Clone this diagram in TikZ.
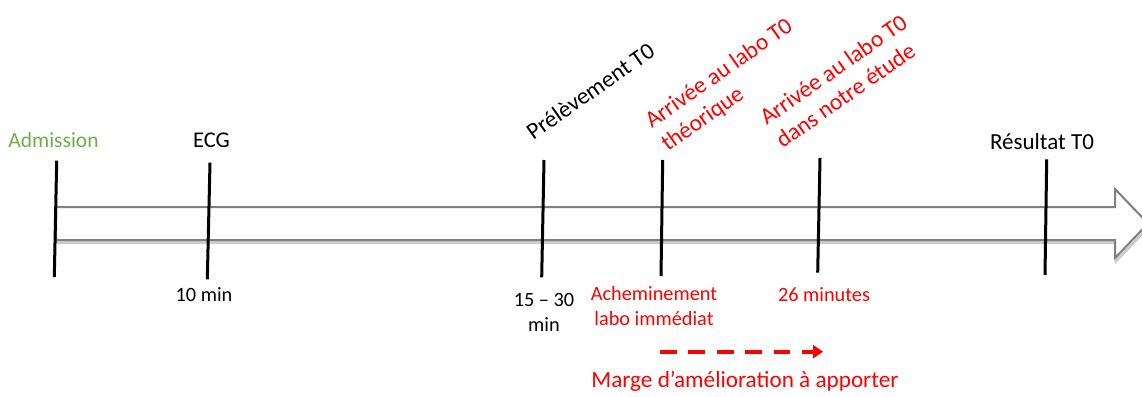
\documentclass[tikz,border=0pt]{standalone}
\usepackage{fontspec}
\setmainfont{Carlito}
\usetikzlibrary{arrows.meta}
\definecolor{admgreen}{HTML}{70AD47}
\definecolor{lblred}{HTML}{FF0000}
\definecolor{arrowgray}{HTML}{808080}
\begin{document}
\begin{tikzpicture}[x=1pt,y=-1pt,
  tickline/.style={line width=3pt, black},
  toplbl/.style={inner sep=0pt, anchor=base, font=\fontsize{21.5}{25}\selectfont},
  botlbl/.style={inner sep=0pt, anchor=base, font=\fontsize{20.3}{24.5}\selectfont},
  rotlbl/.style={inner sep=0pt, anchor=base west, rotate=35, font=\fontsize{23.5}{28}\selectfont},
  bodyline/.style={arrowgray, line width=2pt, line join=miter},
  margearrow/.style={lblred, line width=4pt, dash pattern=on 16.7pt off 11.7pt, -{Triangle[length=10pt,width=13pt]}}
]
\useasboundingbox (0,0) rectangle (1142,396);

% timeline block arrow (shadow then body)
\draw[black!20, line width=3pt, line join=miter, shift={(1.5,2.5)}]
  (56,207) -- (1115,207) -- (1115,189) -- (1148,223.5) -- (1115,258) -- (1115,240) -- (56,240) -- cycle;
\draw[bodyline, fill=white]
  (56,207) -- (1115,207) -- (1115,189) -- (1148,223.5) -- (1115,258) -- (1115,240) -- (56,240) -- cycle;

% tick coordinates
\coordinate (t1a) at (56.7,160.7);  \coordinate (t1b) at (54.3,277);
\coordinate (t2a) at (210,162.7);   \coordinate (t2b) at (207.3,279.3);
\coordinate (t3a) at (544,160);     \coordinate (t3b) at (541.7,277.3);
\coordinate (t4a) at (662.7,160);   \coordinate (t4b) at (661,276);
\coordinate (t5a) at (820,158);     \coordinate (t5b) at (817.7,272.7);
\coordinate (t6a) at (1046.7,159.3);\coordinate (t6b) at (1045,275);
\foreach \i in {1,...,6} \draw[tickline] (t\i a) -- (t\i b);

% top labels
\node[toplbl, text=admgreen] (adm) at (53.5,147) {Admission};
\node[toplbl, font=\fontsize{22.5}{26}\selectfont] (ecg) at (211.5,147) {ECG};
\node[toplbl, font=\fontsize{23}{27}\selectfont] (res) at (1042,149) {Résultat T0};

% rotated labels
\node[rotlbl] (prel) at (533.3,141) {Prélèvement T0};
\node[rotlbl, text=lblred] (theo) at (651.7,129) {\begin{tabular}[t]{@{}l@{}}Arrivée au labo T0\\théorique\end{tabular}};
\node[rotlbl, text=lblred] (etude) at (766.7,126) {\begin{tabular}[t]{@{}l@{}}Arrivée au labo T0\\dans notre étude\end{tabular}};

% bottom labels
\node[botlbl] (d10) at (204,301.7) {10 min};
\node[botlbl] (d15) at (544,306.7) {\begin{tabular}[t]{@{}c@{}}15 – 30\\min\end{tabular}};
\node[botlbl, text=lblred] (ach) at (654,300.7) {\begin{tabular}[t]{@{}c@{}}Acheminement\\labo immédiat\end{tabular}};
\node[botlbl, text=lblred] (d26) at (824,301.7) {26 minutes};

% improvement margin
\coordinate (m1) at (660,351.7);
\coordinate (m2) at (823,351.7);
\draw[margearrow] (m1) -- (m2);
\node[botlbl, text=lblred, font=\fontsize{23.2}{28}\selectfont] (marge) at (745,387) {Marge d’amélioration à apporter};
\end{tikzpicture}
\end{document}
